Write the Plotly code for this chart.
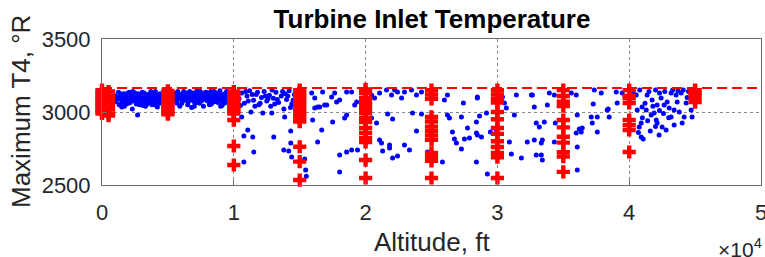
import plotly.graph_objects as go

# ---------------- data ----------------
# blue scatter: (altitude ft, max T4 degR)
blue_band_low = [
    (800,3060),(1000,3110),(1100,3085),(1300,3050),(1400,3125),(1500,3095),(1600,3070),(1700,3040),
    (1800,3115),(1900,3100),(2000,3060),(2100,3135),(2200,3080),(2300,3020),(2400,3105),(2500,3090),
    (2600,3055),(2700,2980),(2800,3120),(2900,3075),(3000,3100),(3100,3045),(3200,3130),(3300,3085),
    (3400,3110),(3500,3065),(3600,3095),(3700,3140),(3800,3050),(3900,3120),(4000,3080),(4100,3105),
    (4200,3035),(4300,3090),(4400,3125),(4500,3070),(4600,3100),(4700,3145),(4800,3060),
    (5500,3090),(5600,3130),(5700,3060),(5800,3110),(5900,3040),(6000,3100),(6100,3075),(6200,3140),
    (6300,3085),(6400,3120),(6500,3050),(6600,3095),(6700,3110),(6800,3030),(6900,3130),(7000,3070),
    (7100,3100),(7200,3145),(7300,3085),(7400,3060),(7500,3120),(7600,3095),(7700,3040),(7800,3105),
    (7900,3135),(8000,3075),(8100,3090),(8200,3115),(8300,3055),(8400,3100),(8500,3140),(8600,3080),
    (8700,3110),(8800,3065),(8900,3125),(9000,3095),(9100,3045),(9200,3105),(9300,3080),(9400,3130),
    (9500,3090),(9600,3060),(9700,3115),
    (1200,3100),(1700,3080),(2200,3110),(2700,3095),(3200,3070),(3700,3090),(4200,3115),(4700,3085),
    (6200,3095),(6700,3080),(7200,3105),(7700,3090),(8200,3070),(8700,3095),(9200,3120),(2500,3130),
    (3500,3120),(6500,3125),(8000,3130),(5600,3080),(4000,3050),(1900,3070),(3300,3040),(7000,3040),
    (9000,3040),(1500,3034),
    (1050,3070),(1250,3135),(1350,3090),(1450,3060),(1550,3110),(1650,3125),(1750,3095),(1850,3055),
    (1950,3130),(2050,3090),(2150,3065),(2250,3100),(2350,3140),(2450,3075),(2550,3110),(2650,3085),
    (2750,3125),(2850,3050),(2950,3105),(3050,3135),(3150,3080),(3250,3100),(3350,3115),(3450,3055),
    (3550,3085),(3650,3105),(3750,3070),(3850,3130),(3950,3095),(4050,3140),(4150,3075),(4250,3100),
    (4350,3060),(4450,3105),(4550,3120),(4650,3090),(4750,3110),(5550,3105),(5650,3075),(5750,3140),
    (5850,3090),(5950,3120),(6050,3060),(6150,3110),(6250,3080),(6350,3130),(6450,3100),(6550,3070),
    (6650,3140),(6750,3095),(6850,3120),(6950,3085),(7050,3115),(7150,3065),(7250,3125),(7350,3100),
    (7450,3140),(7550,3075),(7650,3110),(7750,3130),(7850,3085),(7950,3100),(8050,3120),(8150,3050),
    (8250,3140),(8350,3090),(8450,3115),(8550,3070),(8650,3130),(8750,3085),(8850,3105),(8950,3145),
    (9050,3075),(9150,3110),(9250,3060),(9350,3100),(9450,3140),(9550,3120),(9650,3080),(9750,3100),
    (9850,3135),(9900,3070),
]

blue_band_mid = [
    (10400,3090),(10600,3130),(10800,3060),(11000,3110),(11200,3145),(11300,3000),(11500,3080),
    (11700,3120),(11900,3050),(12100,3100),(12200,2993),(12300,3140),(12500,3075),(12700,3115),
    (12800,3040),(13000,3095),(13200,3135),(13400,3065),(13600,3110),(13800,3020),(14000,3085),
    (14200,3145),(14400,3055),(14600,3120),(14800,3100),(12000,3060),(12600,3090),(13300,3085),
    (13900,3125),(14300,3030),(10900,3140),(11600,3040),(10600,2966),(12880,2993),(13860,2966),
    (11100,3075),(11800,3135),(12400,3110),(13100,3055),(13700,3140),(14500,3080),(12900,3150),
    (11400,3120),(10500,3045),(14100,3110),
    (11060,2877),(10760,2836),(11440,2829),(11520,2726),(10760,2658),(13030,2829),(14320,2870),
    (14320,2788),(13790,2740),(14170,2733),(14390,2692),(15380,2678),(15450,2603),(15500,2560),
]

blue_spread_mid = [
    (15980,2945),(16140,3027),(16360,3034),(16670,2877),(16360,2795),(16890,3048),(17420,3103),
    (17500,2932),(17800,3068),(18030,2705),(18560,2726),(18940,2740),(18030,2589),(18560,2979),
    (19170,3048),(19390,2740),(20300,3062),(20450,2959),(20830,2925),(21060,2808),(21210,2788),
    (21290,2733),(21820,2774),(21820,2753),(22050,2685),(21670,2986),(22050,2952),(22420,2699),
    (22950,2774),(23330,2740),(23560,2993),(23860,2870),(24240,2986),(24700,2726),(16520,3034),
    (18410,2959),
    (15910,3130),(16140,3096),(16740,3137),(17050,3048),(17650,3130),(18030,3082),(18560,3137),
    (18940,3137),(19320,3068),(20450,3116),(20680,3096),(21060,3130),(21590,3150),(21970,3116),
    (22200,3150),(22420,3137),(22730,3096),(22950,3137),(23480,3150),(23860,3116),(24240,3137),
]

blue_spread_high = [
    (26210,2979),(26360,2959),(26590,2863),(26740,2815),(26890,2788),(27270,2747),(25830,2658),
    (27500,2815),(27730,2890),(27880,2822),(28410,2856),(28480,2842),(28790,2829),(28410,2658),
    (27270,2966),(27420,3062),(28480,3103),(28640,2973),(29170,2993),(28410,2932),(29470,2863),
    (29240,2575),(29920,2877),(30680,3027),(30530,3062),(31290,2979),(31440,3116),(30910,2795),
    (31060,2712),(31820,2685),(32270,2795),(32800,2808),(32950,2925),(33180,2897),(33330,2788),
    (33410,2808),(32950,2705),(33330,2705),(33410,2671),(32650,3116),(32800,3034),(33560,2932),
    (33790,3048),(33940,3130),(34320,3116),(34320,2795),(34390,2925),(35610,3130),(35980,3116),
    (36060,2979),(35980,2856),(36210,2884),(36440,2890),(36360,2863),(36060,2760),(36060,2603),
    (37120,2966),(37200,2925),(37270,3055),(37580,2863),(37580,2966),(38330,3014),
    (25980,3082),(26210,3116),(28480,3096),(30380,3103),(32580,3116),(37350,3150),(37880,3130),
    (38480,2966),(38410,3021),(39090,3062),(39470,3130),(39020,3137),
]

blue_cluster_top = [
    (40530,3116),(40610,3014),(40760,2897),(40910,2829),(41060,2815),(40910,2925),(40980,3034),
    (41290,3014),(41360,3116),(41740,3082),(41890,2993),(42050,2945),(42120,2925),(42270,2842),
    (42420,3096),(42650,3048),(42500,2897),(42800,2877),(43180,2966),(43410,2911),(43410,3014),
    (43640,3068),(43940,3130),(43560,3116),(43180,3130),(44170,2966),(44320,3062),(44700,3014),
    (44770,2966),(42880,3068),(43030,3027),(42120,3048),(41670,2979),(44020,2925),
    (40300,3140),(40800,3150),(41500,3140),(42000,3150),(42300,3130),(42700,3140),(43300,3150),
    (43700,3145),(44100,3150),(44500,3140),(44900,3130),(45200,3120),(41200,3060),(41800,3040),
    (42300,3010),(42600,2990),(43000,2960),(43800,3000),(44400,3100),(41000,2960),(41400,2940),
    (41600,2870),(42000,2900),(40700,2860),
]

# red design points: altitude -> list of max T4 values
red_points = {
    0:     [3150,3135,3120,3105,3090,3075,3060,3045,3030,3015,3000,2990],
    500:   [3140,3110,3080,3050,3020,2990,2975],
    5000:  [3145,3130,3115,3100,3085,3070,3055,3040,3025,3010,2995,2985],
    10000: [3140,3125,3110,3095,3080,3065,3050,3035,3020,3005,2990,2945,2767,2637],
    15000: [3150,3130,3110,3090,3070,3050,3030,3010,2990,2970,2950,2934,2762,2660,2534],
    20000: [3155,3130,3096,3070,3048,3020,2993,2960,2932,2890,2856,2820,2795,2671,2548],
    25000: [3150,3120,3090,2966,2935,2900,2870,2840,2810,2720,2690,2665,2548],
    30000: [3150,3120,3090,3065,3000,2950,2890,2850,2800,2760,2720,2690,2548],
    35000: [3150,3110,3070,3040,2945,2895,2830,2790,2725,2695,2590],
    40000: [3150,3110,3096,3062,2945,2910,2877,2726],
    45000: [3150,3130,3116,3090,3068],
}

limit_alt = [0, 50000]
limit_t4 = [3165, 3165]

x_tickvals = [0, 10000, 20000, 30000, 40000, 50000]
x_ticktext = ["0", "1", "2", "3", "4", "5"]
y_tickvals = [2500, 3000, 3500]
y_ticktext = ["2500", "3000", "3500"]

# ---------------- figure ----------------
blue_all = blue_band_low + blue_band_mid + blue_spread_mid + blue_spread_high + blue_cluster_top
blue_x = [p[0] for p in blue_all]
blue_y = [p[1] for p in blue_all]

red_x, red_y = [], []
for alt, vals in red_points.items():
    for v in vals:
        red_x.append(alt)
        red_y.append(v)

FONT = "Liberation Sans, Arial, sans-serif"
AX = "#262626"

fig = go.Figure()
fig.add_trace(go.Scatter(x=blue_x, y=blue_y, mode="markers",
                         marker=dict(symbol="circle", size=5, color="#0000ff", line=dict(width=0)),
                         cliponaxis=False, showlegend=False))
fig.add_trace(go.Scatter(x=red_x, y=red_y, mode="markers",
                         marker=dict(symbol="cross", size=11, color="#ff0000", line=dict(width=0)),
                         cliponaxis=False, showlegend=False))
fig.add_trace(go.Scatter(x=limit_alt, y=limit_t4, mode="lines",
                         line=dict(color="#ff0000", width=2, dash="10px,5px"),
                         showlegend=False))

axis_common = dict(showline=True, linecolor="#6e6e6e", linewidth=1, mirror=True,
                   ticks="inside", ticklen=5, tickcolor="#6e6e6e", automargin=False,
                   showgrid=True, gridcolor="rgba(40,40,40,0.55)", griddash="dot", gridwidth=1,
                   zeroline=False, ticklabeloverflow="allow",
                   tickfont=dict(family=FONT, size=22, color=AX))

fig.update_layout(
    width=765, height=257,
    margin=dict(l=102, r=4, t=39, b=72, autoexpand=False),
    paper_bgcolor="white", plot_bgcolor="white",
    title=dict(text="<b>Turbine Inlet Temperature</b>", x=(432 / 765), xanchor="center",
               xref="container", yref="container", y=1 - 19 / 257, yanchor="middle",
               automargin=False,
               font=dict(family=FONT, size=26, color="#000000")),
    xaxis=dict(range=[0, 50000], tickvals=x_tickvals, ticktext=x_ticktext,
               ticklabelstandoff=8, **axis_common),
    yaxis=dict(range=[2500, 3500], tickvals=y_tickvals, ticktext=y_ticktext,
               ticklabelstandoff=6, **axis_common),
    annotations=[
        dict(text="Altitude, ft", xref="paper", yref="paper", x=0.5, y=-(242 - 185) / 146,
             xanchor="center", yanchor="middle", showarrow=False,
             font=dict(family=FONT, size=26, color=AX)),
        dict(text="Maximum T4, °R", xref="paper", yref="paper", x=(21 - 102) / 659, y=0.5,
             xanchor="center", yanchor="middle", textangle=-90, showarrow=False,
             font=dict(family=FONT, size=26, color=AX)),
        dict(text="×10<sup>4</sup>", xref="paper", yref="paper", x=(764 - 102) / 659,
             y=-(248 - 185) / 146, xanchor="right", yanchor="middle", showarrow=False,
             font=dict(family=FONT, size=21, color=AX)),
    ],
)

fig.write_html("out.html", config={"displayModeBar": False},
               post_script="document.body.style.margin='0';document.body.style.padding='0';")
